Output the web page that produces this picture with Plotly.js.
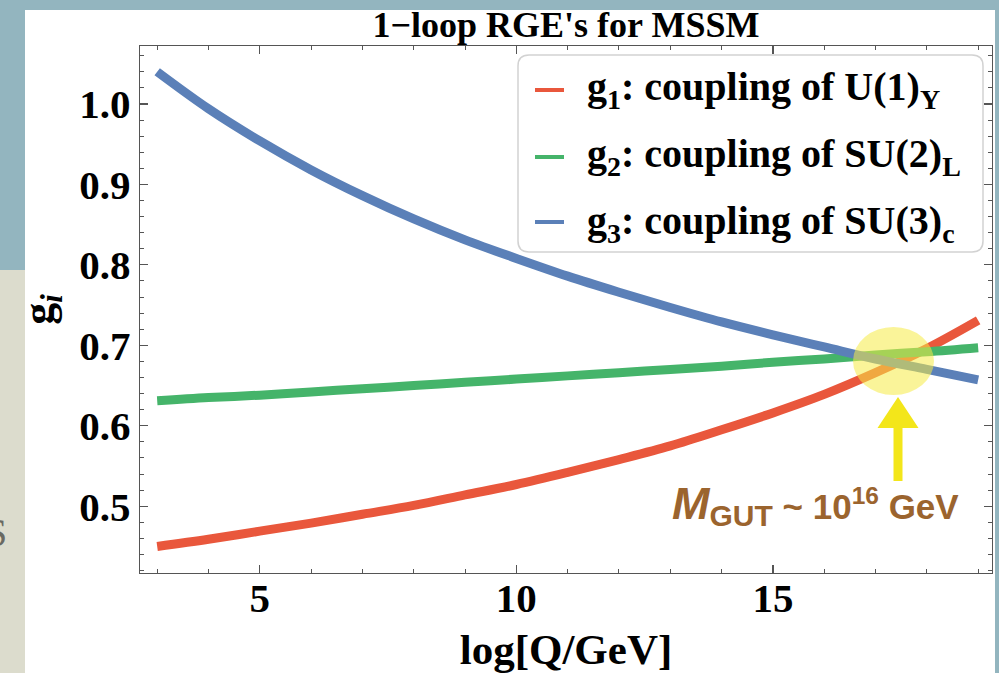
<!DOCTYPE html>
<html><head><meta charset="utf-8">
<script src="https://cdn.plot.ly/plotly-3.0.1.min.js"></script>
<style>html,body{margin:0;padding:0;background:#fff;}</style>
</head><body><div id="chart" style="width:999px;height:673px;"></div>
<script>
// ---- data ----
const logQ = [3,4,5,6,7,8,9,10,11,12,13,14,15,16,17,18,19];
const g1 = [0.450,0.459,0.469,0.479,0.490,0.501,0.514,0.527,0.542,0.558,0.575,0.595,0.616,0.639,0.666,0.696,0.731];
const g2 = [0.631,0.635,0.638,0.642,0.646,0.650,0.654,0.658,0.662,0.666,0.670,0.674,0.679,0.683,0.688,0.692,0.697];
const g3 = [1.040,0.994,0.954,0.918,0.886,0.857,0.831,0.808,0.786,0.766,0.747,0.729,0.713,0.698,0.683,0.670,0.657];
const seriesNames = ["g<sub>1</sub>: coupling of U(1)<sub>Y</sub>",
                     "g<sub>2</sub>: coupling of SU(2)<sub>L</sub>",
                     "g<sub>3</sub>: coupling of SU(3)<sub>c</sub>"];
const seriesColors = ["#e9573c","#45b46a","#5b80b8"];
const xTickVals = [5,10,15];
const xTickText = ["5","10","15"];
const yTickVals = [0.5,0.6,0.7,0.8,0.9,1.0];
const yTickText = ["0.5","0.6","0.7","0.8","0.9","1.0"];

// ---- geometry helpers (pixel -> paper) ----
const L=140, R=992, T=46, B=573;
const px = p => (p-L)/(R-L);
const py = p => (B-p)/(B-T);
function roundRect(x0,y0,x1,y1,r){
  return `M${px(x0+r)},${py(y0)} L${px(x1-r)},${py(y0)} Q${px(x1)},${py(y0)} ${px(x1)},${py(y0+r)} `+
         `L${px(x1)},${py(y1-r)} Q${px(x1)},${py(y1)} ${px(x1-r)},${py(y1)} `+
         `L${px(x0+r)},${py(y1)} Q${px(x0)},${py(y1)} ${px(x0)},${py(y1-r)} `+
         `L${px(x0)},${py(y0+r)} Q${px(x0)},${py(y0)} ${px(x0+r)},${py(y0)} Z`;
}
function arrowPath(cx,tip,base,bottom,hs,hh){
  const pts=[[cx,tip],[cx+hh,base],[cx+hs,base],[cx+hs,bottom],[cx-hs,bottom],[cx-hs,base],[cx-hh,base]];
  return 'M'+pts.map(p=>px(p[0])+','+py(p[1])).join(' L')+' Z';
}

const serif = 'Liberation Serif, Times New Roman, serif';
const ys = [g1,g2,g3];
const traces = ys.map((y,i)=>({
  x: logQ, y: y, type:'scatter', mode:'lines', name: seriesNames[i],
  line:{color:seriesColors[i], width:9, shape:'spline', smoothing:1},
  showlegend:false, hoverinfo:'skip'
}));
// legend text entries (their thin line samples are drawn as shapes below)
seriesNames.forEach((n,i)=>traces.push({
  x:[null], y:[null], type:'scatter', mode:'lines', name:n,
  line:{color:'rgba(0,0,0,0)', width:4}, legendgroup:'g'+i, showlegend:true, hoverinfo:'skip'
}));

const axisCommon = {
  showline:true, linecolor:'#555', linewidth:1.3, mirror:'allticks',
  ticks:'inside', ticklen:8, tickwidth:1.2, tickcolor:'#555',
  showgrid:false, zeroline:false,
  tickfont:{family:serif, size:41, color:'#000', weight:'bold'}
};

const legendRows = [90,157,222];
const sampleShapes = seriesColors.map((c,i)=>({
  type:'line', xref:'paper', yref:'paper', x0:px(535), x1:px(564), y0:py(legendRows[i]), y1:py(legendRows[i]),
  line:{color:c, width:4}, layer:'above'
}));

const layout = {
  width:999, height:673,
  margin:{l:L, r:999-R, t:T, b:673-B, pad:0},
  paper_bgcolor:'#93b5bf', plot_bgcolor:'#ffffff',
  showlegend:true,
  title:{text:"1\u2212loop RGE's for MSSM", font:{family:serif, size:36, color:'#000', weight:'bold'},
         xref:'paper', x:0.5, xanchor:'center', yref:'container', y:1-24/673, yanchor:'middle'},
  xaxis:Object.assign({}, axisCommon, {
    range:[2.665,19.27], tickmode:'array', tickvals:xTickVals, ticktext:xTickText,
    ticklabelstandoff:-12,
    minor:{tickmode:'linear', tick0:0, dtick:1, ticks:'inside', ticklen:4, tickwidth:1, tickcolor:'#555', showgrid:false},
    title:{text:'log[Q/GeV]', font:{family:serif, size:43, color:'#000', weight:'bold'}, standoff:29}
  }),
  yaxis:Object.assign({}, axisCommon, {
    range:[0.417,1.072], tickmode:'array', tickvals:yTickVals, ticktext:yTickText,
    minor:{tickmode:'linear', tick0:0, dtick:0.02, ticks:'inside', ticklen:4, tickwidth:1, tickcolor:'#555', showgrid:false},
    title:{text:'g<sub><i>i</i></sub>', font:{family:serif, size:44, color:'#000', weight:'bold'}, standoff:12}
  }),
  legend:{x:px(547), y:py(52), xanchor:'left', yanchor:'top', bgcolor:'rgba(0,0,0,0)', borderwidth:0,
          font:{family:serif, size:40, color:'#000', weight:'bold'}, traceorder:'grouped', tracegroupgap:12},
  shapes:[
    {type:'rect', xref:'paper', yref:'paper', x0:px(25), x1:px(995), y0:py(690), y1:py(10),
     fillcolor:'#ffffff', line:{width:0}, layer:'below'},
    {type:'rect', xref:'paper', yref:'paper', x0:px(-5), x1:px(25), y0:py(690), y1:py(270),
     fillcolor:'#dcdccd', line:{width:0}, layer:'below'},
    {type:'path', xref:'paper', yref:'paper', path:roundRect(518,55,983,252,11),
     fillcolor:'#ffffff', line:{color:'#d2d2d2', width:1.5}, layer:'below'},
    {type:'circle', xref:'paper', yref:'paper', x0:px(853), x1:px(934), y0:py(395), y1:py(327),
     fillcolor:'rgba(245,235,70,0.55)', line:{width:0}, layer:'above'},
    {type:'path', xref:'paper', yref:'paper', path:arrowPath(898,397,428,481,4.5,20.5),
     fillcolor:'#f3e61a', line:{width:0}, layer:'above'}
  ].concat(sampleShapes),
  annotations:[
    {xref:'paper', yref:'paper', x:px(815), y:py(505), xanchor:'center', yanchor:'middle', showarrow:false,
     text:'<i><span style="font-size:45px">M</span></i><sub><span style="font-size:30px">GUT</span></sub> ~ 10<sup>16</sup> GeV',
     font:{family:'Liberation Sans, Arial, sans-serif', size:35, color:'#9b642e', weight:'bold'}},
    {xref:'paper', yref:'paper', x:px(9), y:py(532), xanchor:'right', yanchor:'middle', showarrow:false,
     text:'S', font:{family:serif, size:40, color:'#6a6a62'}}
  ]
};

Plotly.newPlot('chart', traces, layout, {displayModeBar:false, staticPlot:true});
</script>
</body></html>
